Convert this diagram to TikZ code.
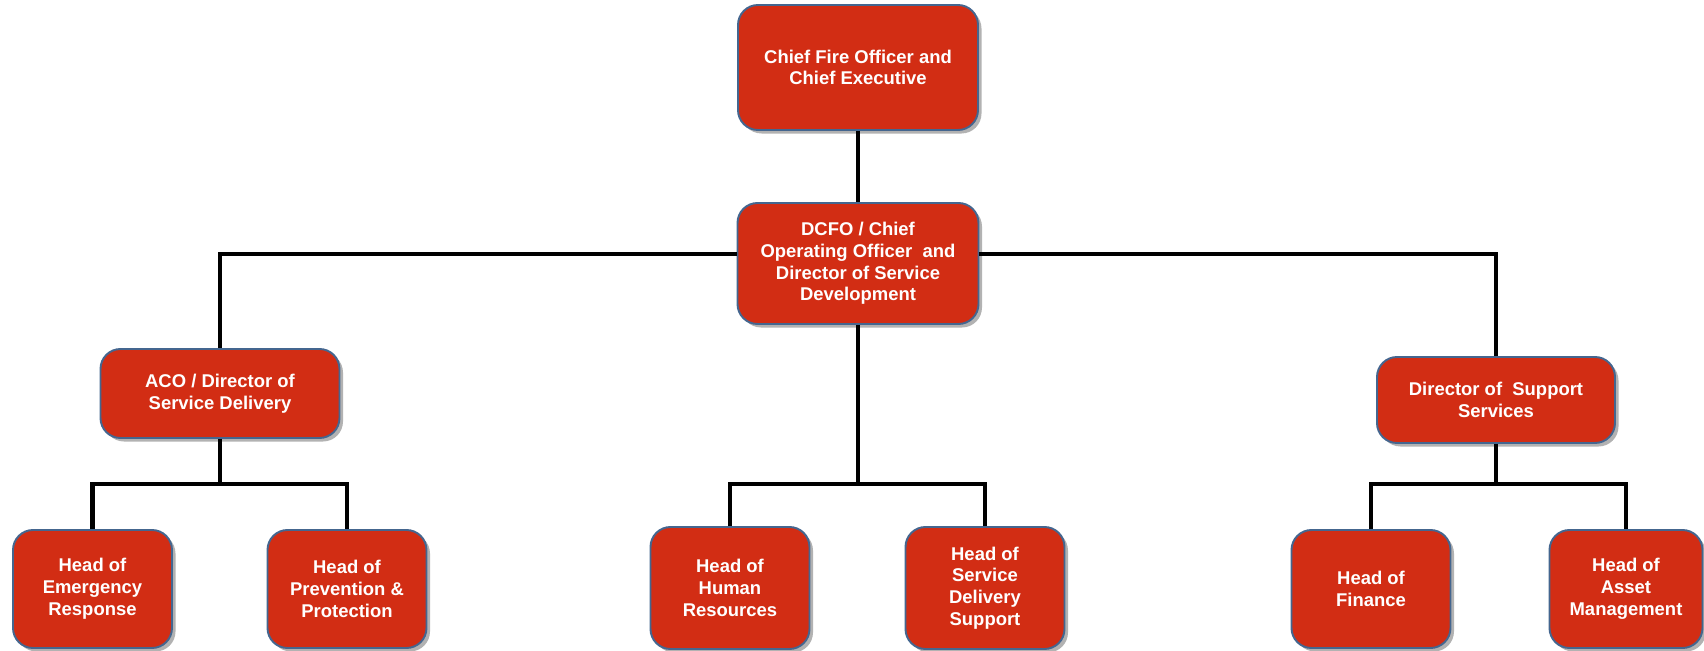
\documentclass[tikz,border=0pt]{standalone}
\usepackage{fontspec}
\setmainfont{Liberation Sans}
\usetikzlibrary{shadows}
\definecolor{boxred}{HTML}{D22D14}
\definecolor{boxedge}{HTML}{44668F}
\tikzset{
	post/.style={draw=boxedge, line width=1.1pt, fill=boxred, rounded corners=0.4cm,
		text=white, align=center, font=\bfseries\fontsize{10.5}{12.4}\selectfont,
		inner sep=2pt,
		drop shadow={shadow xshift=0.07cm, shadow yshift=-0.07cm, opacity=0.3, fill=black}},
	head/.style={post, minimum width=3.18cm, minimum height=2.36cm},
	link/.style={line width=2.3pt, black}
}
\begin{document}
\begin{tikzpicture}
\useasboundingbox (0,0) rectangle (34.08,-13.02);
% Top of the organisation
\node [post, minimum width=4.8cm, minimum height=2.5cm] (ceo) at (17.16,-1.35)
	{Chief Fire Officer and\\ Chief Executive};
\node [post, minimum width=4.82cm, minimum height=2.42cm] (dcfo) at (17.16,-5.27)
	{DCFO / Chief\\ Operating Officer~ and\\ Director of Service\\ Development};
% Directors
\node [post, minimum width=4.78cm, minimum height=1.78cm] (aco) at (4.4,-7.87)
	{ACO / Director of\\ Service Delivery};
\node [post, minimum width=4.76cm, minimum height=1.72cm] (dss) at (29.92,-8.0)
	{Director of~ Support\\ Services};
% Heads
\node [head] (emerg) at (1.85,-11.78) {Head of\\ Emergency\\ Response};
\node [head] (prev) at (6.94,-11.78) {Head of\\ Prevention \&\\ Protection};
\node [head, minimum height=2.44cm] (hr) at (14.6,-11.76) {Head of\\ Human\\ Resources};
\node [head, minimum height=2.44cm] (sds) at (19.7,-11.76) {Head of\\ Service\\ Delivery\\ Support};
\node [head] (fin) at (27.42,-11.78) {Head of\\ Finance};
\node [head, minimum width=3.06cm] (asset) at (32.52,-11.78) {Head of\\ Asset\\ Management};
% Links
\draw [link] (ceo) -- (dcfo);
\draw [link] ([yshift=0.19cm]dcfo.west) -| (aco);
\draw [link] ([yshift=0.19cm]dcfo.east) -| (dss);
\draw [link] (aco.south) -- ++(0,-0.9) coordinate (acoj);
\draw [link] (emerg) |- (acoj) -| (prev);
\draw [link] (dcfo.south) -- ++(0,-3.18) coordinate (dcfoj);
\draw [link] (hr) |- (dcfoj) -| (sds);
\draw [link] (dss.south) -- ++(0,-0.8) coordinate (dssj);
\draw [link] (fin) |- (dssj) -| (asset);
\end{tikzpicture}
\end{document}
